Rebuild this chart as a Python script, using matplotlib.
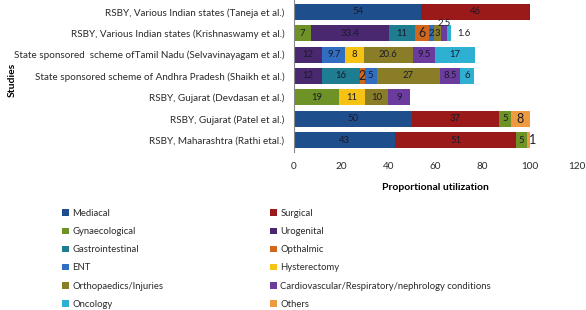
import matplotlib
matplotlib.use("Agg")
import matplotlib.pyplot as plt
import numpy as np

plt.rcParams['font.family'] = ['Lato', 'DejaVu Sans']

studies = [
    "RSBY, Various Indian states (Taneja et al.)",
    "RSBY, Various Indian states (Krishnaswamy et al.)",
    "State sponsored  scheme ofTamil Nadu (Selvavinayagam et al.)",
    "State sponsored scheme of Andhra Pradesh (Shaikh et al.)",
    "RSBY, Gujarat (Devdasan et al.)",
    "RSBY, Gujarat (Patel et al.)",
    "RSBY, Maharashtra (Rathi etal.)",
]
categories = ["Mediacal", "Surgical", "Gynaecological", "Urogenital", "Gastrointestinal",
              "Opthalmic", "ENT", "Hysterectomy", "Orthopaedics/Injuries",
              "Cardiovascular/Respiratory/nephrology conditions", "Oncology", "Others"]
colors = ["#1F4E8C", "#9A1A1A", "#6E9225", "#4A2870", "#1E7D90", "#D2671C",
          "#2F6EC0", "#F6C214", "#8A7D28", "#6B3C9E", "#2DB0D2", "#EE9A3E"]

# values per category, one entry per study (top to bottom)
mediacal     = [54, 0, 0, 0, 0, 50, 43]
surgical     = [46, 0, 0, 0, 0, 37, 51]
gynae        = [0, 7, 0, 0, 19, 5, 5]
urogenital   = [0, 33.4, 12, 12, 0, 0, 0]
gastro       = [0, 11, 0, 16, 0, 0, 0]
opthalmic    = [0, 6, 0, 2, 0, 0, 0]
ent          = [0, 2, 9.7, 5, 0, 0, 0]
hysterectomy = [0, 0, 8, 0, 11, 0, 0]
ortho        = [0, 3, 20.6, 27, 10, 0, 0]
cardio       = [0, 2.5, 9.5, 8.5, 9, 0, 0]
oncology     = [0, 1.6, 17, 6, 0, 0, 0]
others       = [0, 0, 0, 0, 0, 8, 1]
series = [mediacal, surgical, gynae, urogenital, gastro, opthalmic, ent,
          hysterectomy, ortho, cardio, oncology, others]

fig = plt.figure(figsize=(5.86, 3.10), dpi=100)
ax = fig.add_axes([294/586, 1-152/310, 283/586, 152/310])

y = np.arange(len(studies))
left = np.zeros(len(studies))
handles = []
for ci, (name, vals, col) in enumerate(zip(categories, series, colors)):
    vals = np.array(vals, dtype=float)
    h = ax.barh(y, vals, left=left, height=0.75, color=col, label=name)
    handles.append(h)
    for i, v in enumerate(vals):
        if v <= 0:
            continue
        cx = left[i] + v / 2
        cy = y[i]
        fs = 6.8
        if name in ("Opthalmic", "Others"):
            fs = 9
        txt = f"{v:g}"
        if i == 1 and name.startswith("Cardio"):
            cy = y[i] - 0.45
        if i == 1 and name == "Oncology":
            cx = left[i] + v + 5.5
        if i == 6 and name == "Others":
            cx = left[i] + v + 1.0
        ax.text(cx, cy, txt, ha="center", va="center", fontsize=fs, color="#1a1a2a")
    left += vals

ax.set_ylim(6.55, -0.55)
ax.set_xlim(0, 120)
ax.set_xticks(np.arange(0, 121, 20))
ax.set_yticks(y)
ax.set_yticklabels(studies, fontsize=7.1)
ax.tick_params(axis="both", length=0, colors="#2a2a2a")
ax.tick_params(axis="x", labelsize=7.2, pad=7)
ax.tick_params(axis="y", pad=7)
for s in ("top", "right", "bottom"):
    ax.spines[s].set_visible(False)
ax.spines["left"].set_color("#888888")
ax.set_xlabel("Proportional utilization", fontsize=7.5, fontweight="bold", labelpad=9)
fig.text(12/586, 1-80/310, "Studies", rotation=90, fontsize=7.5, fontweight="bold",
         ha="center", va="center")

# legend ordered row-wise in two columns
order = list(range(0, 12, 2)) + list(range(1, 12, 2))
leg = fig.legend([handles[i] for i in order], [categories[i] for i in order],
                 ncol=2, loc="upper left", bbox_to_anchor=(62/586, 1-209/310),
                 frameon=False, fontsize=6.8, handlelength=0.7, handleheight=0.7,
                 handletextpad=0.4, labelspacing=0.97, columnspacing=11.3,
                 borderaxespad=0, borderpad=0)
for t in leg.get_texts():
    t.set_color("#2a2a2a")

fig.savefig("out.png", dpi=100)
